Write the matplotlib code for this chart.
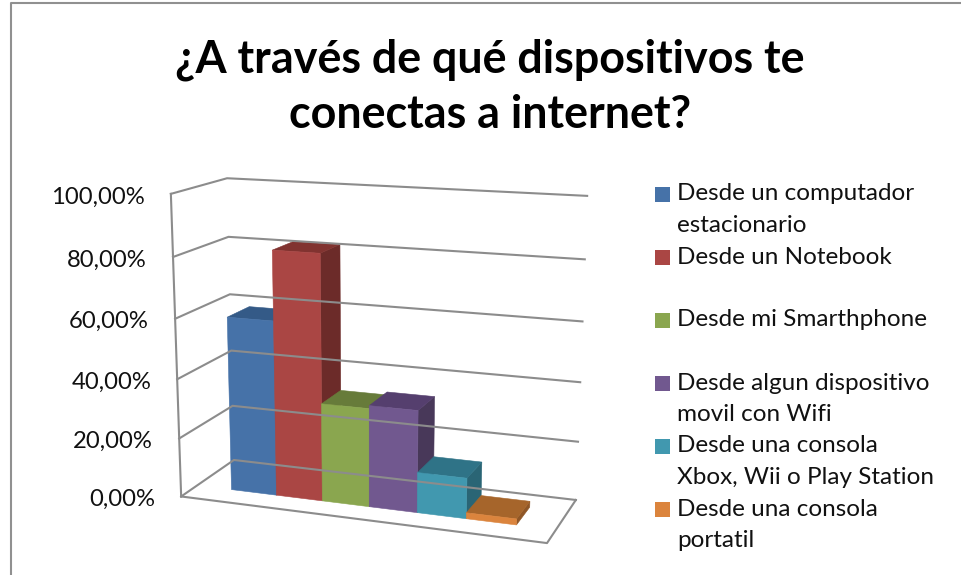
import numpy as np
import matplotlib
matplotlib.use("Agg")
import matplotlib.pyplot as plt
from matplotlib.patches import Polygon, Rectangle

titulo = "¿A través de qué dispositivos te\nconectas a internet?"
series = ["Desde un computador\nestacionario", "Desde un Notebook", "Desde mi Smarthphone",
          "Desde algun dispositivo\nmovil con Wifi", "Desde una consola\nXbox, Wii o Play Station",
          "Desde una consola\nportatil"]
valores = [59, 82, 33, 34, 13.5, 2]
ticks = [0, 20, 40, 60, 80, 100]
tick_labels = ["0,00%", "20,00%", "40,00%", "60,00%", "80,00%", "100,00%"]

cor_frente = ["#4672A8", "#AA4644", "#8AA64F", "#71588F", "#4198AF", "#DB843D"]
cor_topo = ["#345A87", "#813330", "#677B3A", "#553F6E", "#2F7387", "#A6652B"]
cor_lado = ["#2F4F78", "#6C2B29", "#5B6E33", "#483859", "#2A6575", "#8F5626"]

plt.rcParams["font.family"] = ["Lato", "DejaVu Sans"]

# cantos da caixa 3d: (x, profundidade, z) -> pixel, para montar a perspectiva
cantos_3d = [(0, 0, 0), (0, 0, 100), (0, 1, 0), (0, 1, 100), (1, 1, 0), (1, 1, 100), (1, 0, 0)]
cantos_px = [(182, 495.5), (170, 194), (233, 461), (228, 178), (576, 499), (587, 196), (547, 544)]

def monta_camera(p3, p2):
    linhas = []
    for (x, d, z), (u, v) in zip(p3, p2):
        linhas.append([x, d, z, 1, 0, 0, 0, 0, -u*x, -u*d, -u*z])
        linhas.append([0, 0, 0, 0, x, d, z, 1, -v*x, -v*d, -v*z])
    a = np.array(linhas, dtype=float)
    b = np.array(p2, dtype=float).ravel()
    m = np.linalg.lstsq(a, b, rcond=None)[0]
    return np.append(m, 1).reshape(3, 4)

cam = monta_camera(cantos_3d, cantos_px)

def proj(x, d, z):
    u, v, w = cam @ np.array([x, d, z, 1.0])
    return u/w, v/w

fig = plt.figure(figsize=(9.61, 5.75), dpi=100)
ax = fig.add_axes([0, 0, 1, 1])
ax.set_xlim(0, 961)
ax.set_ylim(575, 0)
ax.axis("off")

# moldura do grafico
ax.plot([10.5, 10.5, 961], [575, 3, 3], color="#909090", lw=1.5)

cinza = "#8C8C8C"
for z in ticks:
    pts = [proj(0, 0, z), proj(0, 1, z), proj(1, 1, z)]
    ax.plot(*zip(*pts), color=cinza, lw=1.5, solid_joinstyle="miter")
ax.plot(*zip(proj(0, 0, 0), proj(0, 0, 100)), color=cinza, lw=1.5)
ax.plot(*zip(proj(0, 0, 0), proj(1, 0, 0), proj(1, 1, 0)), color=cinza, lw=1.5)

for z, lab in zip(ticks, tick_labels):
    u, v = proj(0, 0, z)
    ax.text(u - 26, v + 3, lab, ha="right", va="center", fontsize=17.2, color="#111111")

# barras, da esquerda para a direita
x0 = 0.103
larg = 0.1325
d0, d1 = 0.29, 0.71
for i, val in enumerate(valores):
    xa = x0 + i*larg
    xb = xa + larg
    lado = [proj(xb, d0, 0), proj(xb, d1, 0), proj(xb, d1, val), proj(xb, d0, val)]
    topo = [proj(xa, d0, val), proj(xb, d0, val), proj(xb, d1, val), proj(xa, d1, val)]
    frente = [proj(xa, d0, 0), proj(xb, d0, 0), proj(xb, d0, val), proj(xa, d0, val)]
    for pts, cor in zip([lado, topo, frente], [cor_lado[i], cor_topo[i], cor_frente[i]]):
        ax.add_patch(Polygon(pts, closed=True, facecolor=cor, edgecolor=cor, lw=0.4))

ax.text(490, 87, titulo, ha="center", va="center", fontsize=32.3, fontweight="bold",
        color="black", linespacing=1.37)

# legenda
leg_y = 187
for i, nome in enumerate(series):
    y = leg_y + i*63
    ax.add_patch(Rectangle((655, y), 15, 15, facecolor=cor_frente[i], edgecolor="none"))
    ax.text(677, y - 3.5, nome, ha="left", va="top", fontsize=17.5, color="#111111", linespacing=1.6)

fig.savefig("out.png", dpi=100)
